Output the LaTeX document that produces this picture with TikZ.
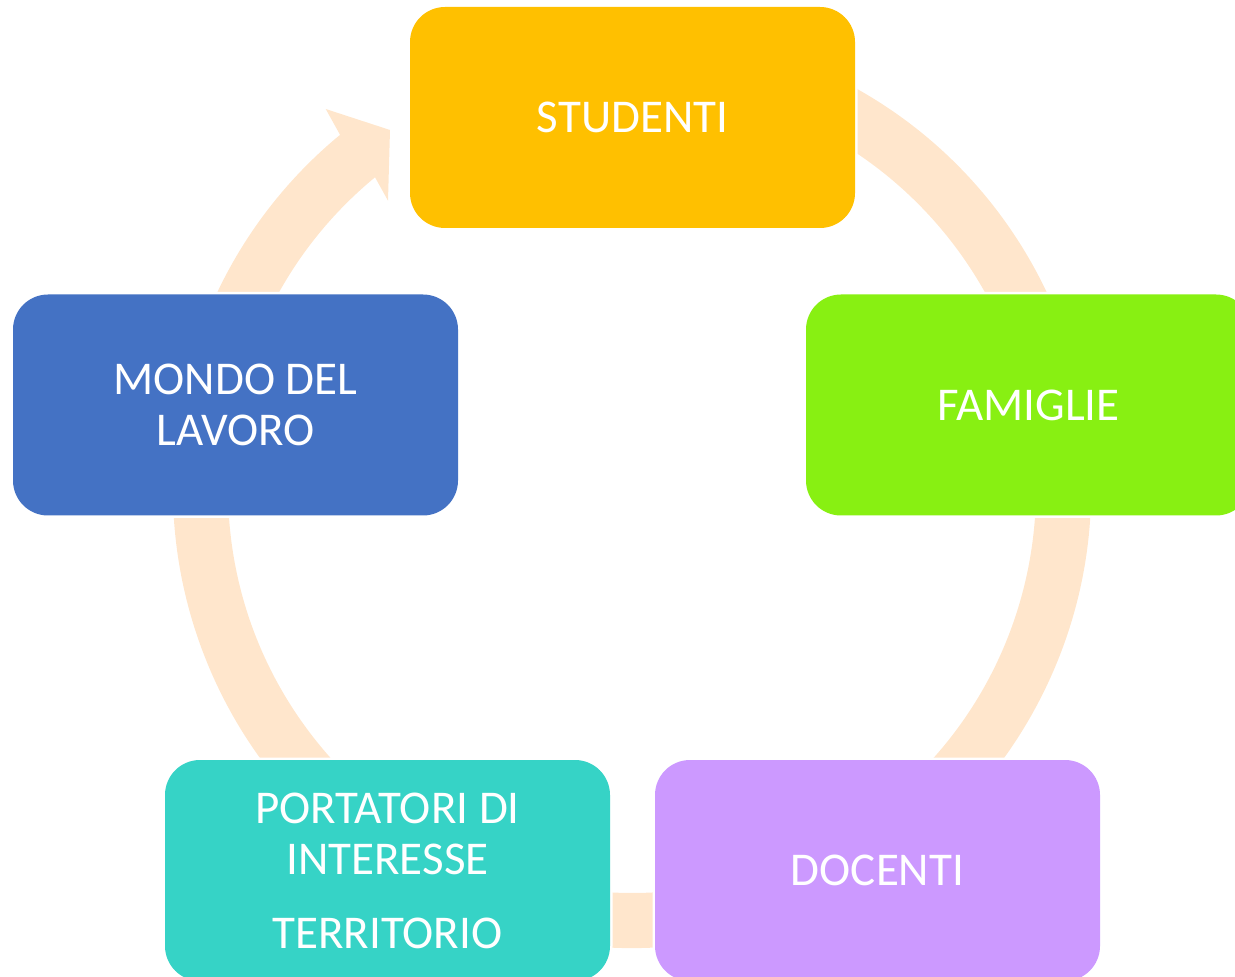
\documentclass[tikz,border=0pt]{standalone}
\usepackage{fontspec}
\setmainfont{Carlito}
\usetikzlibrary{calc}
\definecolor{ringc}{HTML}{FFE6CC}
\definecolor{studc}{HTML}{FFC000}
\definecolor{famc}{HTML}{88F012}
\definecolor{docc}{HTML}{CC99FF}
\definecolor{portc}{HTML}{36D3C6}
\definecolor{mondc}{HTML}{4472C4}
\begin{document}
\begin{tikzpicture}[x=0.5pt, y=-0.5pt,
    box/.style = {rectangle, rounded corners=17.5pt, minimum width=222.5pt, minimum height=110.5pt,
        inner sep=0pt, text=white, align=center, font=\fontsize{23.5}{25.5}\selectfont,
        preaction={draw=white, line width=2.5pt}}]
    \useasboundingbox (0,0) rectangle (1235,977);
    \clip (0,0) rectangle (1235,977);
    \coordinate (c) at (632,489);

    \fill[ringc] (c) ++(-65:459) arc[start angle=-65, end angle=230.5, radius=459]
        -- (325.7,109) -- (390,130) -- (388,200.7)
        -- ($(c)+(230.5:404)$) arc[start angle=230.5, end angle=-65, radius=404] -- cycle;

    \node[box, fill=studc] (1) at (632.5,117.5) {STUDENTI};
    \node[box, fill=famc] (2) at (1028.5,405) {FAMIGLIE};
    \node[box, fill=docc] (3) at (877.5,870.5) {DOCENTI};
    \node[box, fill=portc] (4) at (387.5,870.5) {PORTATORI DI\\INTERESSE\\[11.5pt]TERRITORIO};
    \node[box, fill=mondc] (5) at (235.5,405) {MONDO DEL\\LAVORO};
\end{tikzpicture}
\end{document}
